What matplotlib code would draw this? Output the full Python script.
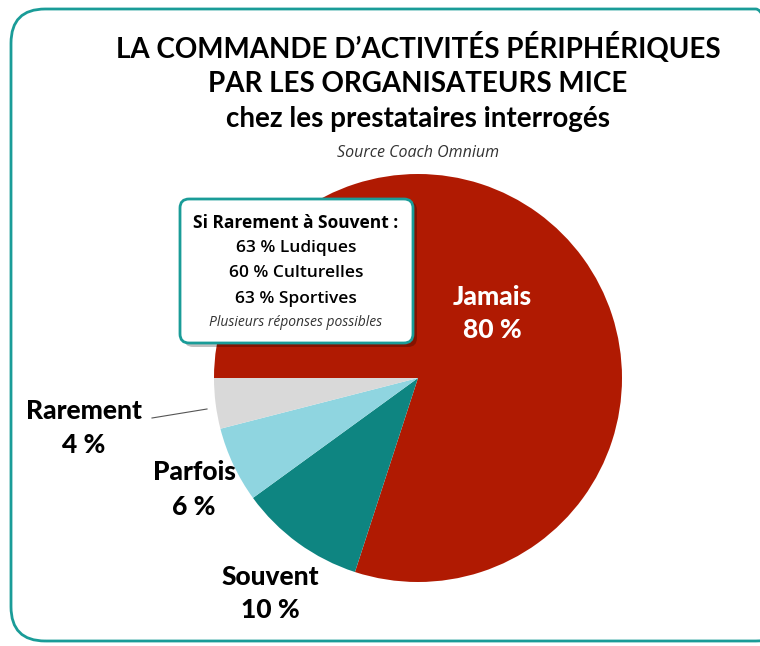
import numpy as np
import matplotlib.pyplot as plt
from matplotlib.patches import FancyBboxPatch

# donnees
categories = ['Jamais', 'Souvent', 'Parfois', 'Rarement']
valeurs = [80, 10, 6, 4]
couleurs = ['#B01A02', '#0E8581', '#8FD5E0', '#D9D9D9']

titre = ["LA COMMANDE D\u2019ACTIVITÉS PÉRIPHÉRIQUES",
         "PAR LES ORGANISATEURS MICE",
         "chez les prestataires interrogés"]
source = "Source Coach Omnium"
encadre = ["Si Rarement à Souvent :", "63 % Ludiques", "60 % Culturelles", "63 % Sportives"]
encadre_note = "Plusieurs réponses possibles"

plt.rcParams['font.family'] = ['Lato', 'DejaVu Sans']
police2 = ['Open Sans', 'DejaVu Sans']

W, H = 760, 646
fig = plt.figure(figsize=(W / 100, H / 100), dpi=100)

def fx(x):
    return x / W

def fy(y):
    return 1 - y / H

# cadre arrondi
cadre = FancyBboxPatch((fx(11), fy(641)), fx(760 - 11 + 30), fy(9) - fy(641),
                       boxstyle="round,pad=0,rounding_size=0.045",
                       transform=fig.transFigure, fill=False,
                       edgecolor='#1A9C98', linewidth=2, mutation_aspect=W / H)
fig.patches.append(cadre)

# titre
fig.text(fx(418), fy(48), titre[0], ha='center', va='center', fontsize=20, fontweight='bold')
fig.text(fx(418), fy(84), titre[1], ha='center', va='center', fontsize=20, fontweight='bold')
fig.text(fx(418), fy(119), titre[2], ha='center', va='center', fontsize=20, fontweight='bold')
fig.text(fx(418), fy(153), source, ha='center', va='center', fontsize=11.5, style='italic',
         color='#333333', family=police2)

# camembert
cx, cy, r = 418, 378, 204
ax = fig.add_axes([fx(cx - r), fy(cy + r), fx(2 * r), fy(cy - r) - fy(cy + r)])
ax.pie(valeurs, colors=couleurs, startangle=180, counterclock=False,
       wedgeprops=dict(linewidth=0))
ax.set_xlim(-1, 1)
ax.set_ylim(-1, 1)
ax.set_aspect('equal')
ax.axis('off')

# etiquettes
etiq = {'Jamais': (492, 297, 330), 'Souvent': (270, 577, 610),
        'Parfois': (194, 472, 507), 'Rarement': (84, 411, 445)}
for cat, v in zip(categories, valeurs):
    x, y1, y2 = etiq[cat]
    c = 'white' if cat == 'Jamais' else 'black'
    fig.text(fx(x), fy(y1), cat, ha='center', va='center', fontsize=19, fontweight='black',
             color=c)
    fig.text(fx(x), fy(y2), f'{v} %', ha='center', va='center', fontsize=19, fontweight='black',
             color=c)

fig.add_artist(plt.Line2D([fx(152), fx(207)], [fy(418), fy(409)], color='#555555', linewidth=0.8))

# encadre
ombre = FancyBboxPatch((fx(184), fy(347)), fx(233), fy(201) - fy(347),
                       boxstyle="round,pad=0,rounding_size=0.012", transform=fig.transFigure,
                       facecolor='#00000040', edgecolor='none', mutation_aspect=W / H)
fig.patches.append(ombre)
boite = FancyBboxPatch((fx(180), fy(343)), fx(233), fy(199) - fy(343),
                       boxstyle="round,pad=0,rounding_size=0.012", transform=fig.transFigure,
                       facecolor='white', edgecolor='#1A9C98', linewidth=2, mutation_aspect=W / H)
fig.patches.append(boite)
fig.text(fx(296), fy(223), encadre[0], ha='center', va='center', fontsize=12.5, fontweight='bold',
         family=police2)
for i, y in enumerate([248, 273, 299]):
    fig.text(fx(296), fy(y), encadre[i + 1], ha='center', va='center', fontsize=12.5,
             fontweight='semibold', family=police2)
fig.text(fx(296), fy(322), encadre_note, ha='center', va='center', fontsize=10, style='italic',
         color='#333333', family=police2)

fig.savefig('out.png', dpi=100)
